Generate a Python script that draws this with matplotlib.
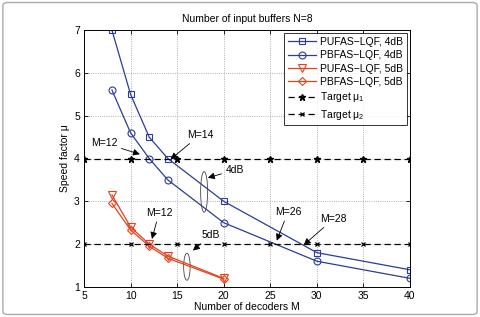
import numpy as np
import matplotlib
matplotlib.use('Agg')
import matplotlib.pyplot as plt
from matplotlib.patches import Ellipse, FancyBboxPatch

# data
m_4db = [8, 10, 12, 14, 20, 30, 40]
pufas_4db = [7.0, 5.5, 4.5, 4.0, 3.0, 1.8, 1.4]
pbfas_4db = [5.6, 4.6, 4.0, 3.5, 2.5, 1.6, 1.2]
m_5db = [8, 10, 12, 14, 20]
pufas_5db = [3.15, 2.4, 2.0, 1.72, 1.2]
pbfas_5db = [2.95, 2.33, 1.95, 1.67, 1.18]
m_target = [5, 10, 15, 20, 25, 30, 35, 40]
target_mu1 = [4] * 8
target_mu2 = [2] * 8

blue = '#2a3d98'
red = '#e2431c'

plt.rcParams['font.family'] = ['Liberation Sans', 'DejaVu Sans']
plt.rcParams['font.size'] = 7.5
plt.rcParams['mathtext.fontset'] = 'custom'
plt.rcParams['mathtext.rm'] = 'Liberation Sans'
plt.rcParams['mathtext.it'] = 'Liberation Sans:italic'

fig = plt.figure(figsize=(4.8, 3.17), dpi=100)
ax = fig.add_axes([0.175, 0.095, 0.679, 0.81])

ax.plot(m_4db, pufas_4db, '-s', color=blue, lw=0.9, ms=5, mfc='none', mew=0.8, label='PUFAS\u2212LQF, 4dB')
ax.plot(m_4db, pbfas_4db, '-o', color=blue, lw=0.9, ms=5, mfc='none', mew=0.8, label='PBFAS\u2212LQF, 4dB')
ax.plot(m_5db, pufas_5db, '-v', color=red, lw=0.9, ms=5.5, mfc='none', mew=0.8, label='PUFAS\u2212LQF, 5dB')
ax.plot(m_5db, pbfas_5db, '-D', color=red, lw=0.9, ms=4.5, mfc='none', mew=0.8, label='PBFAS\u2212LQF, 5dB')
ax.plot(m_target, target_mu1, '--*', color='black', lw=0.9, ms=5, dashes=(5, 3), label='Target \u03bc$_1$')
ax.plot(m_target, target_mu2, '--x', color='black', lw=0.9, ms=3.5, mew=0.9, dashes=(5, 3), label='Target \u03bc$_2$')

ax.set_xlim(5, 40)
ax.set_ylim(1, 7)
ax.set_xticks(range(5, 45, 5))
ax.set_yticks(range(1, 8))
ax.tick_params(direction='in', length=3, width=0.6, top=True, right=True, labelsize=7.5, pad=3)
ax.grid(True, linestyle=':', color='#999999', lw=0.6)
for s in ax.spines.values():
    s.set_linewidth(0.7)

ax.set_title('Number of input buffers N=8', fontsize=7.5, pad=6)
ax.set_xlabel('Number of decoders M', fontsize=7.5, labelpad=1)
ax.set_ylabel('Speed factor \u03bc', fontsize=7.5, labelpad=3)

leg = ax.legend(loc='upper right', fontsize=7.5, frameon=True, fancybox=False,
                edgecolor='black', handlelength=2.7, borderpad=0.35, labelspacing=0.32,
                handletextpad=0.4, borderaxespad=0.3)
leg.get_frame().set_linewidth(0.7)

arrow = dict(arrowstyle='-|>', color='black', lw=0.6, mutation_scale=10,
             shrinkA=1, shrinkB=0)
notes = [
    ('M=12', (11.0, 4.1), (7.15, 4.36)),
    ('M=14', (14.3, 3.98), (17.45, 4.55)),
    ('4dB', (18.3, 3.55), (21.2, 3.73)),
    ('M=26', (25.7, 2.08), (26.9, 2.75)),
    ('M=28', (28.6, 1.98), (31.8, 2.59)),
    ('M=12', (12.3, 2.12), (13.05, 2.73)),
    ('5dB', (16.7, 1.85), (18.65, 2.21)),
]
for txt, tip, pos in notes:
    ax.annotate(txt, xy=tip, xytext=pos, fontsize=7.5, arrowprops=arrow,
                ha='center', va='center')

ax.add_patch(Ellipse((17.9, 3.22), 0.75, 0.95, fill=False, lw=0.6, color='#444444'))
ax.add_patch(Ellipse((16.05, 1.47), 0.7, 0.63, fill=False, lw=0.6, color='#444444'))

# outer frame
fig.patches.append(FancyBboxPatch((0.006, 0.008), 0.988, 0.984, boxstyle='round,pad=0,rounding_size=0.01',
                                  transform=fig.transFigure, fill=False, ec='#aaaaaa', lw=1.0))

fig.savefig('out.png', dpi=100)
